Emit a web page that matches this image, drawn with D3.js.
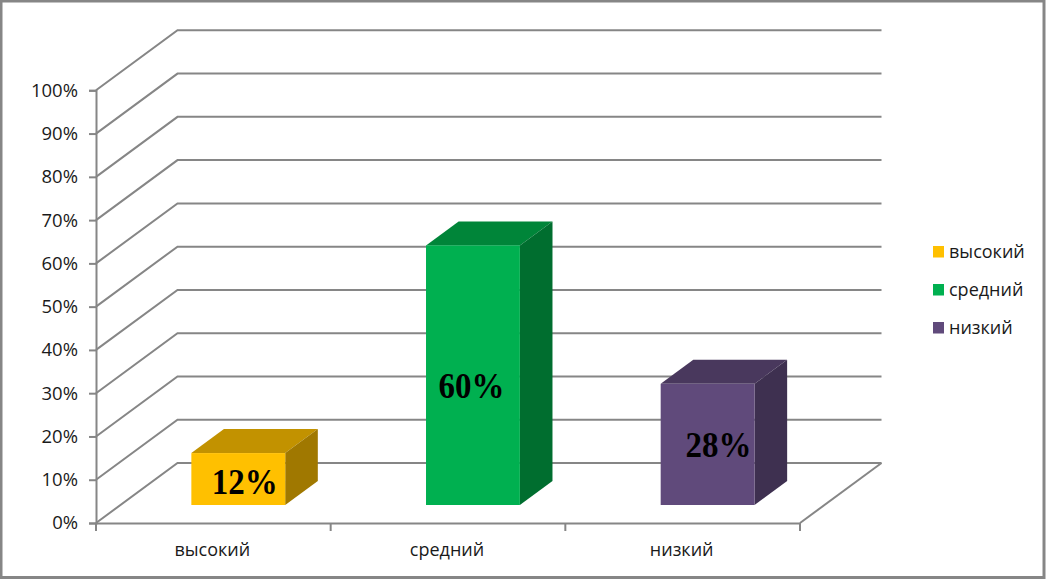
<!DOCTYPE html>
<html>
<head>
<meta charset="utf-8">
<script src="https://cdnjs.cloudflare.com/ajax/libs/d3/7.8.5/d3.min.js"></script>
<style>
    html, body { margin: 0; padding: 0; background: #fff; }
    svg { display: block; }
    text { font-family: "Open Sans", sans-serif; fill: #1a1a1a; }
</style>
</head>
<body>
<div id="chart"></div>
<script>
// Chart data
const categories = ['высокий', 'средний', 'низкий'];
const values = [12, 60, 28];
const yTicks = [0, 10, 20, 30, 40, 50, 60, 70, 80, 90, 100];

const faceColors = ['#ffc000', '#00b050', '#604a7b'];
const topColors = ['#c29200', '#008539', '#49385d'];
const sideColors = ['#a07800', '#006e2f', '#3e3050'];

const width = 1047;
const height = 580;
const gridColor = '#868686';

// depth of the 3d box, as px shift from front to back wall
const depthX = 81.5;
const depthY = 60;
const barZ0 = 0.3;
const barZ1 = 0.7;

const svg = d3.select('#chart')
    .append('svg')
    .attr('width', width)
    .attr('height', height);

// outer frame
svg.append('rect')
    .attr('x', 1)
    .attr('y', 1)
    .attr('width', 1043)
    .attr('height', 576.5)
    .attr('fill', '#fff')
    .attr('stroke', gridColor)
    .attr('stroke-width', 3);

const x = d3.scaleBand().domain(categories).range([96.5, 800.5]);
const y = d3.scaleLinear().domain([0, 100]).range([523, 90.3]);

const px = (xv, z) => xv + z * depthX;
const py = (v, z) => y(v) - z * depthY;

// walls: side lines and back lines for each tick
const grid = svg.append('g')
    .attr('fill', 'none')
    .attr('stroke', gridColor)
    .attr('stroke-width', 2);

yTicks.forEach(t => {
    grid.append('path')
        .attr('d', `M${px(96, 0)},${py(t, 0)} L${px(96, 1)},${py(t, 1)} L${px(800, 1)},${py(t, 1)}`);
});

// floor front right edge
grid.append('line')
    .attr('x1', px(800, 0))
    .attr('y1', py(0, 0))
    .attr('x2', px(800, 1))
    .attr('y2', py(0, 1));

// axes
const yAxis = d3.axisLeft(y)
    .tickValues(yTicks)
    .tickFormat(d => d + '%')
    .tickSize(7)
    .tickPadding(11);

const gy = svg.append('g')
    .attr('transform', 'translate(96,0)')
    .call(yAxis);
gy.selectAll('path, line').attr('stroke', gridColor).attr('stroke-width', 2);
gy.selectAll('text').style('font-size', '18.5px').style('font-family', '"Open Sans", sans-serif').attr('fill', '#1a1a1a');

const gx = svg.append('g')
    .attr('transform', `translate(0,${y(0)})`)
    .call(d3.axisBottom(x).tickValues([]).tickSizeOuter(0));
gx.selectAll('path').attr('stroke', gridColor).attr('stroke-width', 2);

// category separators
[0, 1, 2, 3].forEach(i => {
    gx.append('line')
        .attr('x1', 96 + i * x.step())
        .attr('x2', 96 + i * x.step())
        .attr('y1', 0)
        .attr('y2', 8)
        .attr('stroke', gridColor)
        .attr('stroke-width', 2);
});

svg.selectAll('.cat-label')
    .data(categories)
    .enter()
    .append('text')
    .attr('class', 'cat-label')
    .attr('x', d => x(d) + x.bandwidth() / 2 - 1.5)
    .attr('y', 556)
    .attr('text-anchor', 'middle')
    .style('font-size', '18px')
    .text(d => d);

// bars
const barWidth = x.bandwidth() * 0.4;
const labelShift = [
    { dx: 6.5, dy: 3 },
    { dx: -1.5, dy: 11 },
    { dx: 11, dy: 1 }
];

categories.forEach((cat, i) => {
    const x0 = x(cat) + (x.bandwidth() - barWidth) / 2;
    const x1 = x0 + barWidth;
    const v = values[i];
    const g = svg.append('g');
    const poly = pts => pts.map(p => p.join(',')).join(' ');

    // top
    g.append('polygon')
        .attr('fill', topColors[i])
        .attr('points', poly([
            [px(x0, barZ0), py(v, barZ0)],
            [px(x1, barZ0), py(v, barZ0)],
            [px(x1, barZ1), py(v, barZ1)],
            [px(x0, barZ1), py(v, barZ1)]
        ]));

    // side
    g.append('polygon')
        .attr('fill', sideColors[i])
        .attr('points', poly([
            [px(x1, barZ0), py(v, barZ0)],
            [px(x1, barZ1), py(v, barZ1)],
            [px(x1, barZ1), py(0, barZ1)],
            [px(x1, barZ0), py(0, barZ0)]
        ]));

    // front
    g.append('rect')
        .attr('x', px(x0, barZ0))
        .attr('y', py(v, barZ0))
        .attr('width', barWidth)
        .attr('height', y(0) - y(v))
        .attr('fill', faceColors[i]);

    g.append('text')
        .attr('x', px((x0 + x1) / 2, barZ0) + labelShift[i].dx)
        .attr('y', py(v / 2, barZ0) + labelShift[i].dy + 12)
        .attr('text-anchor', 'middle')
        .attr('textLength', 66)
        .attr('lengthAdjust', 'spacingAndGlyphs')
        .style('font-family', '"Liberation Serif", serif')
        .style('font-weight', 'bold')
        .style('font-size', '35px')
        .style('fill', '#000')
        .text(v + '%');
});

// legend
const legend = svg.selectAll('.legend')
    .data(categories)
    .enter()
    .append('g')
    .attr('class', 'legend')
    .attr('transform', (d, i) => `translate(933,${246 + i * 38})`);

legend.append('rect')
    .attr('width', 11)
    .attr('height', 11.5)
    .attr('fill', (d, i) => faceColors[i]);

legend.append('text')
    .attr('x', 16)
    .attr('y', 12)
    .style('font-size', '18px')
    .text(d => d);
</script>
</body>
</html>
